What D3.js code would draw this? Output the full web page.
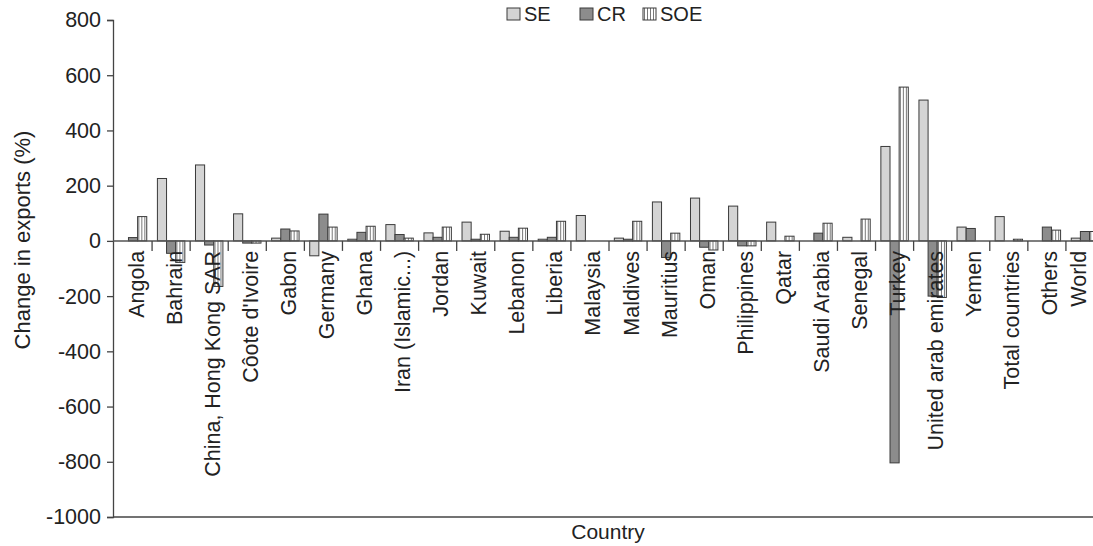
<!DOCTYPE html>
<html>
<head>
<meta charset="utf-8">
<script src="https://cdn.jsdelivr.net/npm/d3@7"></script>
<style>
  body { margin: 0; background: #fff; }
  text { font-family: "Liberation Sans", Arial, sans-serif; fill: #222; }
</style>
</head>
<body>
<div id="root"></div>
<script>
const categories = ['Angola', 'Bahrain', 'China, Hong Kong SAR', "Côote d'Ivoire", 'Gabon', 'Germany', 'Ghana',
  'Iran (Islamic...)', 'Jordan', 'Kuwait', 'Lebanon', 'Liberia', 'Malaysia', 'Maldives', 'Mauritius', 'Oman',
  'Philippines', 'Qatar', 'Saudi Arabia', 'Senegal', 'Turkey', 'United arab emirates', 'Yemen',
  'Total countries', 'Others', 'World'];
const seriesNames = ['SE', 'CR', 'SOE'];
const seValues = [0, 226, 275, 98, 10, -54, 6, 59, 29, 68, 35, 6, 92, 10, 141, 155, 126, 68, 0, 13, 342, 510, 50, 88, 0, 10];
const crValues = [12, -45, -15, -8, 43, 97, 31, 23, 13, 6, 13, 13, 0, 6, -60, -23, -18, 0, 28, 0, -804, -200, 45, 0, 50, 34];
const soeValues = [88, -78, -165, -8, 36, 50, 53, 10, 50, 24, 46, 71, 0, 71, 28, -33, -18, 17, 64, 79, 557, -205, 0, 6, 39, 34];
const yTicks = [800, 600, 400, 200, 0, -200, -400, -600, -800, -1000];

const chartW = 1093, chartH = 546;
const mLeft = 114, mRight = 1104, mTop = 20, mBottom = 517;

const svg = d3.select('#root').append('svg')
  .attr('width', chartW)
  .attr('height', chartH)
  .attr('viewBox', [0, 0, chartW, chartH]);

// vertical stripes for SOE
const defs = svg.append('defs');
const pat = defs.append('pattern')
  .attr('id', 'stripes')
  .attr('patternUnits', 'userSpaceOnUse')
  .attr('width', 3).attr('height', 10);
pat.append('rect').attr('width', 3).attr('height', 10).attr('fill', '#fff');
pat.append('line').attr('x1', 1.5).attr('x2', 1.5).attr('y1', 0).attr('y2', 10)
  .attr('stroke', '#555').attr('stroke-width', 0.8);

const fills = { SE: '#d4d4d4', CR: '#8c8c8c', SOE: 'url(#stripes)' };

const rows = categories.map((c, i) => ({
  country: c,
  SE: seValues[i], CR: crValues[i], SOE: soeValues[i]
}));

const x0 = d3.scaleBand().domain(categories).range([mLeft, mRight]).paddingInner(0.28).paddingOuter(0.14);
const x1 = d3.scaleBand().domain(seriesNames).range([0, x0.bandwidth()]);
const y = d3.scaleLinear().domain([-1000, 800]).range([mBottom, mTop]);
const step = x0.step();

// bars
const groups = svg.append('g').selectAll('g')
  .data(rows)
  .join('g')
  .attr('transform', (d) => `translate(${x0(d.country)},0)`);

groups.selectAll('rect')
  .data((d) => seriesNames.map((k) => ({ key: k, value: d[k] })))
  .join('rect')
  .attr('x', (d) => x1(d.key))
  .attr('width', x1.bandwidth())
  .attr('y', (d) => y(Math.max(0, d.value)))
  .attr('height', (d) => Math.abs(y(d.value) - y(0)))
  .attr('fill', (d) => fills[d.key])
  .attr('stroke', (d) => d.value === 0 ? 'none' : '#3a3a3a')
  .attr('stroke-width', 1);

// y axis
const yAxis = svg.append('g')
  .attr('transform', `translate(${mLeft - 1},0)`)
  .call(d3.axisLeft(y).tickValues(yTicks).tickSize(6).tickPadding(6).tickFormat((d) => String(d)));
yAxis.selectAll('line, path').attr('stroke', '#444').attr('stroke-width', 1.3);
yAxis.selectAll('text').style('font-size', '21.5px').attr('fill', '#222');

// zero line and bottom line
svg.append('line')
  .attr('x1', mLeft - 1).attr('x2', chartW)
  .attr('y1', y(0)).attr('y2', y(0))
  .attr('stroke', '#555').attr('stroke-width', 1.5);
svg.append('line')
  .attr('x1', mLeft - 1).attr('x2', chartW)
  .attr('y1', y(-1000)).attr('y2', y(-1000))
  .attr('stroke', '#444').attr('stroke-width', 1.3);

// category ticks between bands
svg.append('g').selectAll('line')
  .data(categories.slice(1))
  .join('line')
  .attr('x1', (d) => x0(d) - step * 0.14)
  .attr('x2', (d) => x0(d) - step * 0.14)
  .attr('y1', y(0)).attr('y2', y(0) + 10)
  .attr('stroke', '#444').attr('stroke-width', 1.3);

// category labels (last one kept inside the frame)
svg.append('g').selectAll('text')
  .data(categories)
  .join('text')
  .attr('transform', (d) => `translate(${Math.min(1086, x0(d) + x0.bandwidth() / 2 + 10.5)},${y(0) + 10}) rotate(-90)`)
  .attr('text-anchor', 'end')
  .style('font-size', '21.5px')
  .text((d) => d);

// axis titles
svg.append('text')
  .attr('transform', 'translate(30,240) rotate(-90)')
  .attr('text-anchor', 'middle')
  .style('font-size', '22px')
  .text('Change in exports (%)');

svg.append('text')
  .attr('x', 608).attr('y', 539)
  .attr('text-anchor', 'middle')
  .style('font-size', '21px')
  .text('Country');

// legend
const legendX = [507, 580, 643];
const legend = svg.append('g').selectAll('g')
  .data(seriesNames)
  .join('g')
  .attr('transform', (d, i) => `translate(${legendX[i]},8)`);
legend.append('rect')
  .attr('width', 13).attr('height', 12)
  .attr('fill', (d) => fills[d])
  .attr('stroke', '#3a3a3a');
legend.append('text')
  .attr('x', 17).attr('y', 13)
  .style('font-size', '20px')
  .text((d) => d);
</script>
</body>
</html>
